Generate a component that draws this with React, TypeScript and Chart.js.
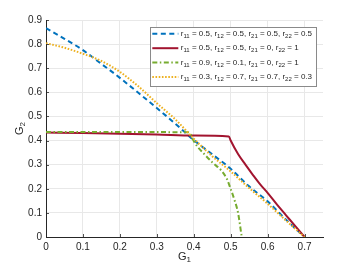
import React, { useEffect, useRef } from "react";
import { Chart, registerables } from "chart.js";

Chart.register(...registerables);

const X_TICKS = [0, 0.1, 0.2, 0.3, 0.4, 0.5, 0.6, 0.7];
const Y_TICKS = [0, 0.1, 0.2, 0.3, 0.4, 0.5, 0.6, 0.7, 0.8, 0.9];

const blueX = [0, 0.05, 0.1, 0.15, 0.2, 0.25, 0.3, 0.35, 0.4, 0.45, 0.5, 0.55, 0.6, 0.65, 0.7];
const blueY = [0.866, 0.822, 0.775, 0.718, 0.66, 0.598, 0.535, 0.47, 0.402, 0.343, 0.283, 0.21, 0.148, 0.072, 0];

const redX = [0, 0.1, 0.2, 0.3, 0.4, 0.495, 0.5, 0.52, 0.54, 0.56, 0.58, 0.6, 0.625, 0.65, 0.675, 0.7];
const redY = [0.433, 0.431, 0.428, 0.425, 0.421, 0.417, 0.4, 0.344, 0.3, 0.258, 0.218, 0.183, 0.135, 0.09, 0.045, 0];

const greenX = [0, 0.1, 0.2, 0.3, 0.385, 0.39, 0.4, 0.41, 0.426, 0.45, 0.475, 0.49, 0.5, 0.51, 0.52, 0.53];
const greenY = [0.435, 0.435, 0.435, 0.435, 0.434, 0.43, 0.398, 0.375, 0.348, 0.31, 0.275, 0.24, 0.2, 0.155, 0.1, 0];

const yellowX = [0, 0.05, 0.1, 0.15, 0.2, 0.25, 0.3, 0.35, 0.4, 0.45, 0.5, 0.55, 0.6, 0.65, 0.7];
const yellowY = [0.804, 0.785, 0.76, 0.73, 0.685, 0.625, 0.555, 0.488, 0.408, 0.335, 0.272, 0.203, 0.138, 0.068, 0];

const LEGEND_LABELS = [
  "r_{11} = 0.5, r_{12} = 0.5, r_{21} = 0.5, r_{22} = 0.5",
  "r_{11} = 0.5, r_{12} = 0.5, r_{21} = 0, r_{22} = 1",
  "r_{11} = 0.9, r_{12} = 0.1, r_{21} = 0, r_{22} = 1",
  "r_{11} = 0.3, r_{12} = 0.7, r_{21} = 0.7, r_{22} = 0.3",
];
const X_TITLE = "G_{1}";
const Y_TITLE = "G_{2}";

const COLORS = ["#0072BD", "#A2142F", "#77AC30", "#EDB120"];
const DASHES: number[][] = [[5, 3.5], [], [5, 2.5, 1.5, 2.5], [1.6, 1.6]];
const FONT = "'Liberation Sans', Arial, Helvetica, sans-serif";
const TEXT = "#262626";

type Seg = { t: string; sub: boolean };
function parseRich(s: string): Seg[] {
  const out: Seg[] = [];
  const re = /_\{([^}]*)\}/g;
  let last = 0;
  let m: RegExpExecArray | null;
  while ((m = re.exec(s))) {
    if (m.index > last) out.push({ t: s.slice(last, m.index), sub: false });
    out.push({ t: m[1], sub: true });
    last = re.lastIndex;
  }
  if (last < s.length) out.push({ t: s.slice(last), sub: false });
  return out;
}

function richWidth(ctx: CanvasRenderingContext2D, s: string, size: number, subSize: number) {
  let w = 0;
  for (const seg of parseRich(s)) {
    ctx.font = `${seg.sub ? subSize : size}px ${FONT}`;
    w += ctx.measureText(seg.t).width;
  }
  return w;
}

function drawRich(
  ctx: CanvasRenderingContext2D,
  s: string,
  x: number,
  y: number,
  size: number,
  subSize: number,
  subShift: number
) {
  let cx = x;
  ctx.textBaseline = "middle";
  ctx.textAlign = "left";
  for (const seg of parseRich(s)) {
    ctx.font = `${seg.sub ? subSize : size}px ${FONT}`;
    ctx.fillText(seg.t, cx, seg.sub ? y + subShift : y);
    cx += ctx.measureText(seg.t).width;
  }
}

const decorPlugin = {
  id: "decor",
  afterDatasetsDraw(chart: any) {
    const ctx: CanvasRenderingContext2D = chart.ctx;
    const a = chart.chartArea;
    const xs = chart.scales.x;
    const ys = chart.scales.y;
    ctx.save();
    // inward tick marks
    ctx.strokeStyle = TEXT;
    ctx.lineWidth = 0.8;
    ctx.beginPath();
    for (const v of X_TICKS) {
      const px = Math.round(xs.getPixelForValue(v)) + 0.5;
      ctx.moveTo(px, a.bottom);
      ctx.lineTo(px, a.bottom - 3);
    }
    for (const v of Y_TICKS) {
      const py = Math.round(ys.getPixelForValue(v)) + 0.5;
      ctx.moveTo(a.left, py);
      ctx.lineTo(a.left + 3, py);
    }
    ctx.stroke();

    // axis titles
    ctx.fillStyle = TEXT;
    const tw = richWidth(ctx, X_TITLE, 11, 8);
    drawRich(ctx, X_TITLE, (a.left + a.right) / 2 - tw / 2, 257, 11, 8, 3);
    ctx.save();
    ctx.translate(20, (a.top + a.bottom) / 2);
    ctx.rotate(-Math.PI / 2);
    const th = richWidth(ctx, Y_TITLE, 11, 8);
    drawRich(ctx, Y_TITLE, -th / 2, 0, 11, 8, 3);
    ctx.restore();

    // legend
    const size = 8;
    const sub = 6;
    let maxW = 0;
    for (const l of LEGEND_LABELS) maxW = Math.max(maxW, richWidth(ctx, l, size, sub));
    const lineLen = 26;
    const boxW = 2 + lineLen + 2.5 + maxW + 4;
    const boxH = 59;
    const right = a.right - 7;
    const left = right - boxW;
    const top = a.top + 7;
    ctx.fillStyle = "#ffffff";
    ctx.fillRect(left, top, boxW, boxH);
    ctx.strokeStyle = "#8a8a8a";
    ctx.lineWidth = 1;
    ctx.setLineDash([]);
    ctx.strokeRect(Math.round(left) + 0.5, Math.round(top) + 0.5, Math.round(boxW), boxH);
    for (let i = 0; i < LEGEND_LABELS.length; i++) {
      const cy = top + 6.8 + i * 14.4;
      ctx.strokeStyle = COLORS[i];
      ctx.lineWidth = 2;
      ctx.setLineDash(DASHES[i]);
      ctx.beginPath();
      ctx.moveTo(left + 2, cy);
      ctx.lineTo(left + 2 + lineLen, cy);
      ctx.stroke();
      ctx.setLineDash([]);
      ctx.fillStyle = TEXT;
      drawRich(ctx, LEGEND_LABELS[i], left + 2 + lineLen + 2.5, cy, size, sub, 2.5);
    }
    ctx.restore();
  },
};

function toPts(xs: number[], ys: number[]) {
  return xs.map((x, i) => ({ x, y: ys[i] }));
}

export default function App() {
  const ref = useRef<HTMLCanvasElement | null>(null);
  useEffect(() => {
    if (!ref.current) return;
    const series = [
      toPts(blueX, blueY),
      toPts(redX, redY),
      toPts(greenX, greenY),
      toPts(yellowX, yellowY),
    ];
    const chart = new Chart(ref.current, {
      type: "line",
      data: {
        datasets: series.map((d, i) => ({
          label: LEGEND_LABELS[i],
          data: d,
          borderColor: COLORS[i],
          backgroundColor: COLORS[i],
          borderWidth: 2,
          borderDash: DASHES[i],
          pointRadius: 0,
          fill: false,
          cubicInterpolationMode: "monotone" as const,
          order: 3 - i,
        })),
      },
      options: {
        animation: false,
        responsive: true,
        maintainAspectRatio: false,
        layout: { padding: { left: 0, top: 20, right: 34, bottom: 0 } },
        plugins: { legend: { display: false }, tooltip: { enabled: false } },
        scales: {
          x: {
            type: "linear",
            min: 0,
            max: 0.75,
            afterFit: (s: any) => {
              s.height = 31;
            },
            afterBuildTicks: (s: any) => {
              s.ticks = X_TICKS.map((v) => ({ value: v }));
            },
            grid: { color: "#e8e8e8", drawTicks: false, lineWidth: 1 },
            border: { display: true, color: TEXT, width: 1 },
            ticks: {
              padding: 4,
              color: TEXT,
              font: { family: FONT, size: 10 },
              maxRotation: 0,
              callback: (v: any) => String(Math.round(Number(v) * 10) / 10),
            },
          },
          y: {
            type: "linear",
            min: 0,
            max: 0.9,
            afterFit: (s: any) => {
              s.width = 46;
            },
            afterBuildTicks: (s: any) => {
              s.ticks = Y_TICKS.map((v) => ({ value: v }));
            },
            grid: { color: "#e8e8e8", drawTicks: false, lineWidth: 1 },
            border: { display: true, color: TEXT, width: 1 },
            ticks: {
              padding: 4,
              color: TEXT,
              font: { family: FONT, size: 10 },
              callback: (v: any) => String(Math.round(Number(v) * 10) / 10),
            },
          },
        },
      },
      plugins: [decorPlugin],
    });
    return () => chart.destroy();
  }, []);
  return (
    <div style={{ position: "fixed", left: 0, top: 0, width: 357, height: 268, background: "#fff" }}>
      <canvas ref={ref} />
    </div>
  );
}
